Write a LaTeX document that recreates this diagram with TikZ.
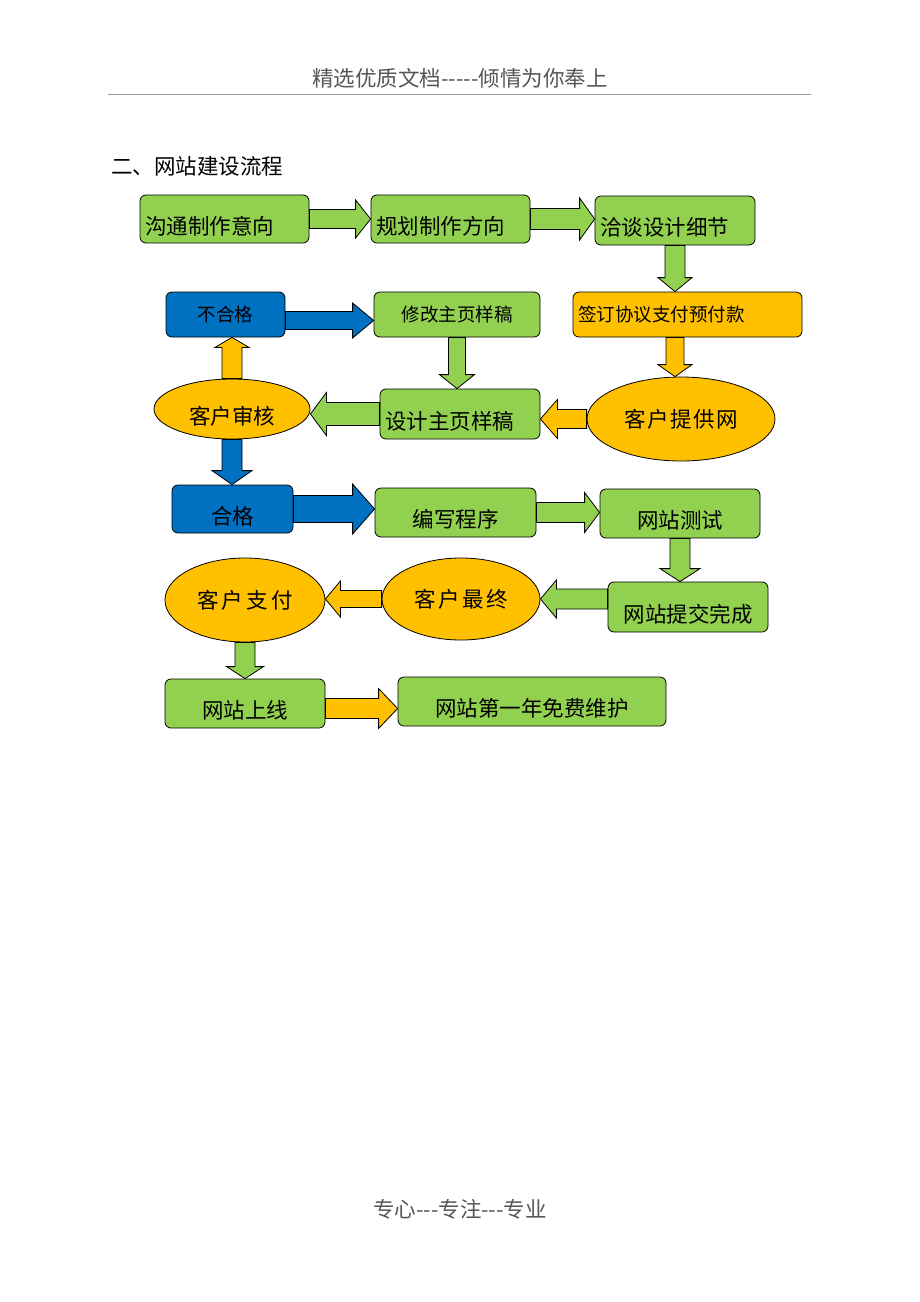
\documentclass[tikz,border=0pt]{standalone}
\usepackage{fontspec}
\setmainfont{Noto Sans CJK SC}
\usetikzlibrary{shapes.geometric,calc}

\definecolor{stagegreen}{HTML}{92D050}
\definecolor{stageorange}{HTML}{FFC000}
\definecolor{stageblue}{HTML}{0070C0}
\definecolor{headgray}{HTML}{555555}

\newcommand{\hy}{\mbox{-}}

\tikzset{
  stage/.style={rectangle, rounded corners=6pt, draw=black, line width=0.8pt, fill=stagegreen,
    inner xsep=5pt, inner ysep=0pt, font=\fontsize{21.5}{24}\selectfont},
  low/.style={text height=39pt, text depth=9pt},
  oval/.style={ellipse, draw=black, line width=0.8pt, fill=stageorange, inner sep=0pt},
  flowarrow/.style={draw=black, line width=0.8pt, line join=miter}
}

% block arrow from #2 to #3: half shaft #4, half head #5, head length #6
\newcommand{\link}[6][]{%
  \draw[flowarrow, #1] let \p1=(#2), \p2=(#3), \n1={veclen(\x2-\x1,\y2-\y1)},
      \n2={atan2(\y2-\y1,\x2-\x1)} in [shift={(\p1)}, rotate=\n2]
    (0,-#4) -- (\n1-#6,-#4) -- (\n1-#6,-#5) -- (\n1,0) -- (\n1-#6,#5) -- (\n1-#6,#4) -- (0,#4) -- cycle;
}

\begin{document}
\begin{tikzpicture}[x=1pt, y=-1pt]
  \useasboundingbox (0,0) rectangle (920,1302);

  % Header, title, footer
  \node[font=\fontsize{21.5}{24}\selectfont, text=headgray] (head) at (460,78) {精选优质文档\hy\hy\hy\hy\hy 倾情为你奉上};
  \draw[headgray!60, line width=1pt] (108,94) -- (811,94);
  \node[anchor=west, inner sep=0pt, font=\fontsize{21.5}{24}\selectfont] (title) at (111,166) {二、网站建设流程};
  \node[font=\fontsize{21.5}{24}\selectfont, text=headgray] (foot) at (460,1209) {专心\hy\hy\hy 专注\hy\hy\hy 专业};

  % Row 1
  \node[stage, low, minimum height=48, text width=159, align=left] (a1) at (224.5,219) {沟通制作意向};
  \node[stage, low, minimum height=48, text width=149, align=left] (a2) at (450.5,219) {规划制作方向};
  \node[stage, low, minimum height=49, text width=150, align=left] (a3) at (675,220.5) {洽谈设计细节};

  % Row 2
  \node[stage, fill=stageblue, minimum height=45, text width=109, align=center,
    font=\fontsize{18.5}{20}\selectfont] (b1) at (225.5,314.5) {不合格};
  \node[stage, minimum height=45, text width=156, align=center,
    font=\fontsize{18.5}{20}\selectfont] (b2) at (457,314.5) {修改主页样稿};
  \node[stage, fill=stageorange, minimum height=45, text width=219, align=left,
    font=\fontsize{18.5}{20}\selectfont] (b3) at (687.5,314.5) {签订协议支付预付款};

  % Row 3
  \node[oval, minimum width=156, minimum height=60, text height=31pt, text depth=0pt,
    font=\fontsize{21.5}{24}\selectfont] (c1) at (232,409) {客户审核};
  \node[stage, low, minimum height=50, text width=150, align=left] (c2) at (460,414) {设计主页样稿};
  \node[oval, minimum width=188, minimum height=84,
    font=\fontsize{21.5}{24}\selectfont\addfontfeature{LetterSpace=7}] (c3) at (681,419) {客户提供网};

  % Row 4
  \node[stage, low, fill=stageblue, minimum height=48, text width=111, align=center] (d1) at (232.5,509) {合格};
  \node[stage, low, minimum height=49, text width=151, align=center] (d2) at (455.5,512.5) {编写程序};
  \node[stage, low, minimum height=49, text width=150, align=center] (d3) at (680,513.5) {网站测试};

  % Row 5
  \node[oval, minimum width=160, minimum height=84,
    font=\fontsize{21.5}{24}\selectfont\addfontfeature{LetterSpace=15}] (e1) at (245,600) {客户支付};
  \node[oval, minimum width=158, minimum height=82,
    font=\fontsize{21.5}{24}\selectfont\addfontfeature{LetterSpace=12}] (e2) at (461,599) {客户最终};
  \node[stage, low, minimum height=50, text width=150, align=center] (e3) at (688,607) {网站提交完成};

  % Row 6
  \node[stage, low, minimum height=49, text width=150, align=center] (f1) at (245,703.5) {网站上线};
  \node[stage, low, minimum height=49, text width=258, align=center] (f2) at (532,701.5) {网站第一年免费维护};

  % Arrows
  \coordinate (bl) at ($(b1.east)+(0,6)$);
  \coordinate (fl) at ($(f1.east)+(0,5)$);
  \link[fill=stagegreen]{a1.east}{a2.west}{9.5}{19}{15}
  \link[fill=stagegreen]{a2.east}{a3.west |- a2.east}{10.5}{21}{15}
  \link[fill=stagegreen]{a3.south}{a3.south |- b3.north}{10}{17}{14}
  \link[fill=stageblue]{bl}{b2.west |- bl}{9}{17.5}{21}
  \link[fill=stageorange]{a3.south |- b3.south}{a3.south |- c3.north}{9}{17}{12}
  \link[fill=stagegreen]{b2.south}{b2.south |- c2.north}{8.5}{17.5}{14}
  \link[fill=stageorange]{c1.north}{c1.north |- b1.south}{10}{17}{10}
  \link[fill=stageorange]{c3.west}{c2.east |- c3.west}{9.5}{19.5}{17}
  \link[fill=stagegreen]{c2.west}{c1.east |- c2.west}{11.5}{21.5}{16}
  \link[fill=stageblue]{c1.south}{c1.south |- d1.north}{10}{20}{14}
  \link[fill=stageblue]{d1.east}{d2.west |- d1.east}{13.5}{25}{22}
  \link[fill=stagegreen]{d2.east}{d3.west |- d2.east}{10}{20}{15}
  \link[fill=stagegreen]{d3.south}{d3.south |- e3.north}{10}{20}{13}
  \link[fill=stagegreen]{e2.east -| e3.west}{e2.east}{10}{19}{16}
  \link[fill=stageorange]{e2.west}{e1.east |- e2.west}{8.5}{18}{15}
  \link[fill=stagegreen]{e1.south}{e1.south |- f1.north}{10}{18.5}{12}
  \link[fill=stageorange]{fl}{f2.west |- fl}{10}{20}{19}
\end{tikzpicture}
\end{document}
